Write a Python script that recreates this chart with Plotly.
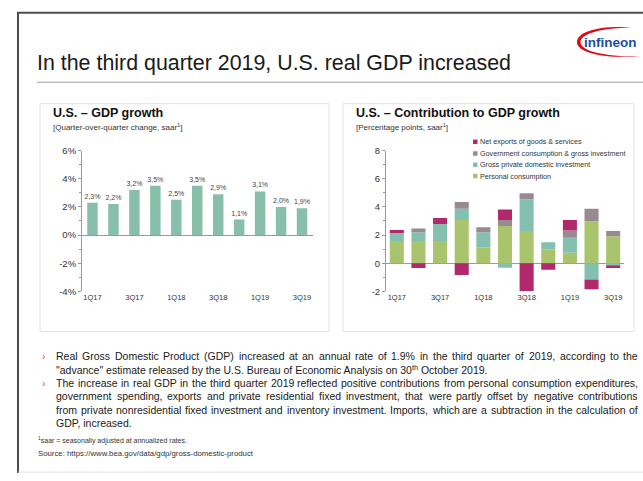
import plotly.graph_objects as go

# ---------------------------------------------------------------- data
quarters = ["1Q17", "2Q17", "3Q17", "4Q17", "1Q18", "2Q18",
            "3Q18", "4Q18", "1Q19", "2Q19", "3Q19"]
tick_quarters = quarters[::2]

# Real GDP, quarter-over-quarter change, saar (%)
gdp_growth = [2.3, 2.2, 3.2, 3.5, 2.5, 3.5, 2.9, 1.1, 3.1, 2.0, 1.9]

# Contributions to GDP growth (percentage points, saar)
personal_consumption = [1.58, 1.58, 1.58, 3.07, 1.12, 2.65, 2.28, 0.98, 0.74, 2.98, 1.91]
private_investment = [0.56, 0.61, 1.21, 0.79, 1.07, -0.33, 2.27, 0.51, 1.07, -1.16, -0.23]
government = [0.00, 0.28, 0.00, 0.49, 0.37, 0.42, 0.42, 0.00, 0.52, 0.88, 0.37]
net_exports = [0.21, -0.35, 0.42, -0.84, 0.00, 0.74, -2.00, -0.47, 0.74, -0.70, -0.12]

component_names = ["Personal consumption",
                   "Gross private domestic investment",
                   "Government consumption & gross investment",
                   "Net exports of goods & services"]

growth_ticks = [-4, -2, 0, 2, 4, 6]
growth_ticktext = ["-4%", "-2%", "0%", "2%", "4%", "6%"]
contrib_ticks = [-2, 0, 2, 4, 6, 8]
contrib_ticktext = ["-2", "0", "2", "4", "6", "8"]

# ---------------------------------------------------------------- styling
W, H = 643, 481
FONT = "Liberation Sans, Arial, sans-serif"
TXT = "#222222"
AXIS = "#9a9a9a"
C_GDP = "#88bfaa"
C_PCE = "#a9c46c"
C_INV = "#84c0b0"
C_GOV = "#988a90"
C_NX = "#b1296c"
component_colors = [C_PCE, C_INV, C_GOV, C_NX]

# Arial / Liberation Sans advance widths (1/1000 em) used to justify body text
_W = {" ": 278, "!": 278, '"': 355, "#": 556, "$": 556, "%": 889, "&": 667, "'": 191,
      "(": 333, ")": 333, "*": 389, "+": 584, ",": 278, "-": 333, ".": 278, "/": 278,
      ":": 278, ";": 278, "?": 556,
      "A": 667, "B": 667, "C": 722, "D": 722, "E": 667, "F": 611, "G": 778, "H": 722,
      "I": 278, "J": 500, "K": 667, "L": 556, "M": 833, "N": 722, "O": 778, "P": 667,
      "Q": 778, "R": 722, "S": 667, "T": 611, "U": 722, "V": 667, "W": 944, "X": 667,
      "Y": 667, "Z": 611,
      "a": 556, "b": 556, "c": 500, "d": 556, "e": 556, "f": 278, "g": 556, "h": 556,
      "i": 222, "j": 222, "k": 500, "l": 222, "m": 833, "n": 556, "o": 556, "p": 556,
      "q": 556, "r": 333, "s": 500, "t": 278, "u": 556, "v": 500, "w": 722, "x": 500,
      "y": 500, "z": 500}


def text_width(s, size):
    return sum(_W.get(c, 556) for c in s) * size / 1000.0


def px(x):
    return x / W


def py(y):
    return 1 - y / H


fig = go.Figure()

# left chart: GDP growth
gdp_labels = [f"{v:.1f}%".replace(".", ",") for v in gdp_growth]
fig.add_trace(go.Bar(
    x=quarters, y=gdp_growth, text=gdp_labels, textposition="outside",
    constraintext="none",
    textfont=dict(size=7, color="#444444", family=FONT),
    marker=dict(color=C_GDP, line=dict(width=0)), width=0.5,
    cliponaxis=False, showlegend=False, xaxis="x", yaxis="y",
    hoverinfo="skip"))

# right chart: stacked contributions
for name, vals, col in zip(component_names,
                           [personal_consumption, private_investment, government, net_exports],
                           component_colors):
    fig.add_trace(go.Bar(
        x=quarters, y=vals, name=name, marker=dict(color=col, line=dict(width=0)),
        width=0.65, showlegend=False, xaxis="x2", yaxis="y2", hoverinfo="skip"))

ydom = [py(292), py(148)]
axis_common = dict(showgrid=False, tickfont=dict(size=7.5, color="#333333", family=FONT))
yaxis_common = dict(showgrid=False, showline=True, linecolor=AXIS, linewidth=1,
                    ticks="outside", ticklen=3, tickcolor=AXIS, tickwidth=1,
                    zeroline=True, zerolinecolor=AXIS, zerolinewidth=1,
                    tickfont=dict(size=9.5, color="#333333", family=FONT))

fig.update_layout(
    width=W, height=H, margin=dict(l=0, r=0, t=0, b=0),
    paper_bgcolor="white", plot_bgcolor="rgba(0,0,0,0)",
    font=dict(family=FONT, color=TXT),
    barmode="relative", showlegend=False, uniformtext=dict(mode=False),
    xaxis=dict(domain=[px(82), px(312.5)], type="category", categoryorder="array",
               categoryarray=quarters, tickvals=tick_quarters, ticks="",
               showline=False, anchor="y", **axis_common),
    yaxis=dict(domain=ydom, range=[-4, 6], tickvals=growth_ticks, ticktext=growth_ticktext,
               minor=dict(dtick=1, ticks="outside", ticklen=2, tickcolor=AXIS),
               anchor="x", **yaxis_common),
    xaxis2=dict(domain=[px(386), px(624)], type="category", categoryorder="array",
                categoryarray=quarters, tickvals=tick_quarters, ticks="",
                showline=False, anchor="y2", **axis_common),
    yaxis2=dict(domain=ydom, range=[-2, 8], tickvals=contrib_ticks, ticktext=contrib_ticktext,
                minor=dict(dtick=1, ticks="outside", ticklen=2, tickcolor=AXIS),
                anchor="x2", **yaxis_common),
)

shapes = []
# slide frame
shapes.append(dict(type="line", xref="paper", yref="paper", x0=px(18), x1=px(18),
                   y0=py(7), y1=py(478), line=dict(color="#4d4d4d", width=2)))
shapes.append(dict(type="line", xref="paper", yref="paper", x0=px(17), x1=1,
                   y0=py(7), y1=py(7), line=dict(color="#4d4d4d", width=2)))
shapes.append(dict(type="line", xref="paper", yref="paper", x0=px(18), x1=1,
                   y0=py(477), y1=py(477), line=dict(color="#e4e4e4", width=1)))
# title rule
shapes.append(dict(type="line", xref="paper", yref="paper", x0=px(37), x1=1,
                   y0=py(78), y1=py(78), line=dict(color="#a0a0a0", width=1)))
# chart panels
for x0, x1 in [(40, 329), (343, 634)]:
    shapes.append(dict(type="rect", xref="paper", yref="paper", layer="below",
                       x0=px(x0), x1=px(x1), y0=py(333), y1=py(100),
                       fillcolor="white", line=dict(color="#e3e3e3", width=1)))


# logo swoosh
def path_from(points):
    out = "M {:.5f} {:.5f}".format(px(points[0][0]), py(points[0][1]))
    for seg in points[1:]:
        out += " C " + ", ".join("{:.5f} {:.5f}".format(px(a), py(b)) for a, b in seg)
    return out + " Z"


swoosh = path_from([
    (632, 22),
    [(600, 19.5), (577, 26), (577, 37)],
    [(577, 48), (606, 54), (640, 51.5)],
    [(607, 52), (580.5, 46.5), (580.5, 37)],
    [(580.5, 28), (602, 22.5), (632, 22)],
])
shapes.append(dict(type="path", xref="paper", yref="paper", path=swoosh,
                   fillcolor="#e30613", line=dict(width=0)))

# legend swatches for the contribution chart
legend_rows = [(139, C_NX, component_names[3]), (151, C_GOV, component_names[2]),
               (162.5, C_INV, component_names[1]), (174, C_PCE, component_names[0])]
for yy, col, _ in legend_rows:
    shapes.append(dict(type="rect", xref="paper", yref="paper",
                       x0=px(473), x1=px(477.5), y0=py(yy + 2.3), y1=py(yy - 2.3),
                       fillcolor=col, line=dict(width=0)))

fig.update_layout(shapes=shapes)

ann = []


def text(x, y, s, size, color=TXT, anchor="left", family=FONT):
    ann.append(dict(xref="paper", yref="paper", x=px(x), y=py(y), text=s,
                    showarrow=False, xanchor=anchor, yanchor="middle",
                    font=dict(size=size, color=color, family=family),
                    align="left", borderpad=0))


def justified(x0, x1, y, s, size, color):
    words = s.split(" ")
    widths = [text_width(w, size) for w in words]
    gap = (x1 - x0 - sum(widths)) / (len(words) - 1)
    x = x0
    for w, wd in zip(words, widths):
        text(x, y, w, size, color)
        x += wd + gap


text(36, 58, "In the third quarter 2019, U.S. real GDP increased", 21.4, "#1a1a1a")
text(610, 37, "<b>infineon</b>", 13.5, "#1b4f9c", anchor="center")

text(52, 110, "<b>U.S. – GDP growth</b>", 12.5, "#111111")
text(52, 124, "[Quarter-over-quarter change, saar<sup>1</sup>]", 8, "#333333")
text(355, 110, "<b>U.S. – Contribution to GDP growth</b>", 12.5, "#111111")
text(355, 124, "[Percentage points, saar<sup>1</sup>]", 8, "#333333")

for yy, _, name in legend_rows:
    text(479, yy, name, 7.2, "#333333")

BODY = 10.5
para_lines = [
    (True, True, "Real Gross Domestic Product (GDP) increased at an annual rate of 1.9% in the third quarter of 2019, according to the"),
    (False, False, "\"advance\" estimate released by the U.S. Bureau of Economic Analysis on 30<sup>th</sup> October 2019."),
    (True, True, "The increase in real GDP in the third quarter 2019 reflected positive contributions from personal consumption expenditures,"),
    (False, True, "government spending, exports and private residential fixed investment, that were partly offset by negative contributions"),
    (False, True, "from private nonresidential fixed investment and inventory investment. Imports, which are a subtraction in the calculation of"),
    (False, False, "GDP, increased."),
]
line_y = [358, 371.5, 386, 399.5, 413, 426.5]
for (bullet, just, s), yy in zip(para_lines, line_y):
    if bullet:
        text(41, yy, "›", 10.5, "#d9532f")
    if just:
        justified(55, 637, yy, s, BODY, "#1a1a1a")
    else:
        text(55, yy, s, BODY, "#1a1a1a")

text(37, 445, "<sup>1</sup>saar = seasonally adjusted at annualized rates.", 7, "#333333")
text(37, 458, "Source: https://www.bea.gov/data/gdp/gross-domestic-product", 7.8, "#333333")

fig.update_layout(annotations=ann)

fig.write_html("out.html")
